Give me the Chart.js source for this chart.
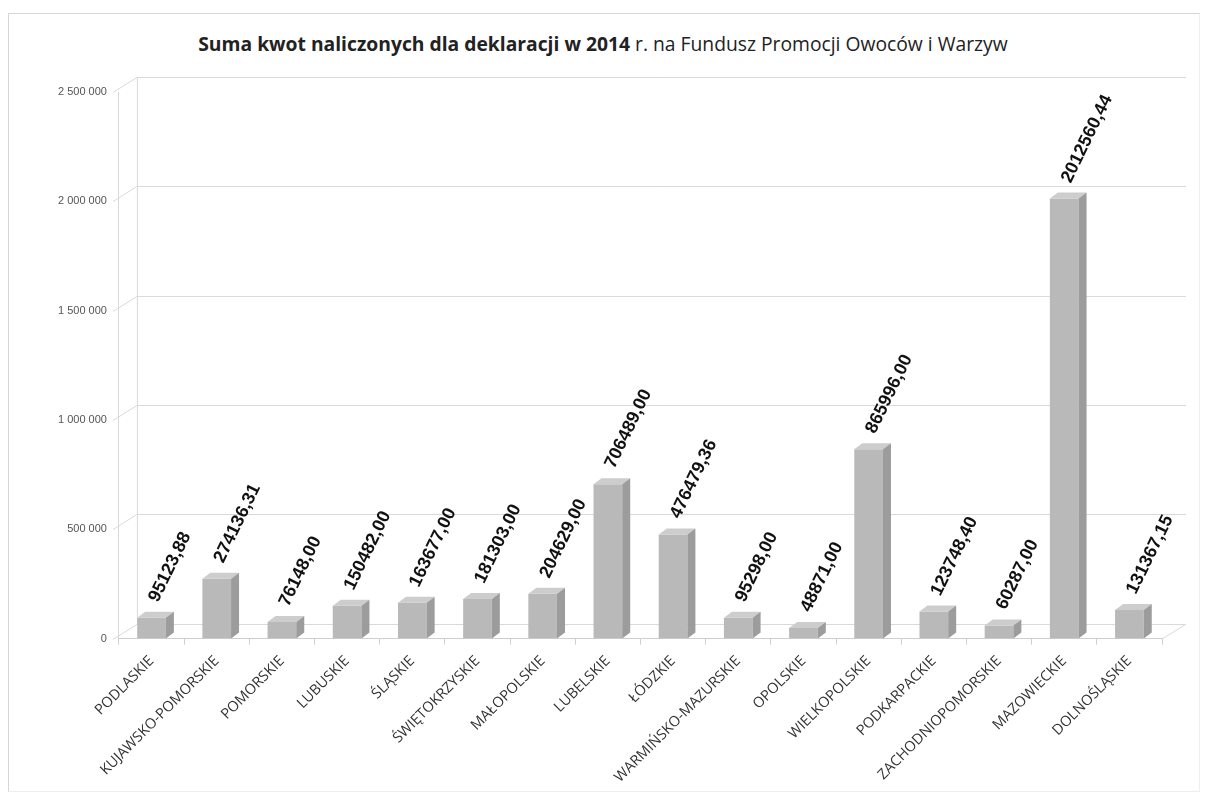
<!DOCTYPE html>
<html>
<head>
<meta charset="utf-8">
<script src="https://cdn.jsdelivr.net/npm/chart.js@4.4.1/dist/chart.umd.min.js"></script>
<style>
  body { margin: 0; background: #fff; }
  #frame { position: absolute; left: 8px; top: 13px; width: 1190px; height: 777px; border: 1px solid #d6d6d6; border-right-color: #eee; border-bottom-color: #eee; }
  #title { position: absolute; left: 0; top: 30px; width: 1206px; text-align: center;
           font-family: 'Open Sans', sans-serif; font-size: 19.3px; color: #222; }
  #title b { font-weight: 700; }
  #wrap { position: absolute; left: 0; top: 0; width: 1206px; height: 799px; }
</style>
</head>
<body>
<div id="frame"></div>
<div id="title"><b>Suma kwot naliczonych dla deklaracji w 2014</b> r. na Fundusz Promocji Owoców i Warzyw</div>
<div id="wrap"><canvas id="chart" width="1206" height="799"></canvas></div>
<script>
const regions = [
  'PODLASKIE', 'KUJAWSKO-POMORSKIE', 'POMORSKIE', 'LUBUSKIE', 'ŚLĄSKIE',
  'ŚWIĘTOKRZYSKIE', 'MAŁOPOLSKIE', 'LUBELSKIE', 'ŁÓDZKIE', 'WARMIŃSKO-MAZURSKIE',
  'OPOLSKIE', 'WIELKOPOLSKIE', 'PODKARPACKIE', 'ZACHODNIOPOMORSKIE', 'MAZOWIECKIE',
  'DOLNOŚLĄSKIE'
];
const amounts = [
  95123.88, 274136.31, 76148.00, 150482.00, 163677.00,
  181303.00, 204629.00, 706489.00, 476479.36, 95298.00,
  48871.00, 865996.00, 123748.40, 60287.00, 2012560.44,
  131367.15
];
const yMax = 2500000;
const yStep = 500000;

// 3D look: depth offset of bars and of the back wall
const barDepthX = 8, barDepthY = 6;
const wallX = 24, wallY = 15;

const fmtAxis = v => String(v).replace(/\B(?=(\d{3})+(?!\d))/g, ' ');
const fmtValue = v => v.toFixed(2).replace('.', ',');

const bar3d = {
  id: 'bar3d',
  beforeDatasetsDraw(chart) {
    const ctx = chart.ctx;
    const { left, right } = chart.chartArea;
    const y = chart.scales.y;
    ctx.save();
    ctx.strokeStyle = '#d9d9d9';
    ctx.lineWidth = 1;
    y.ticks.forEach(t => {
      const py = Math.round(y.getPixelForValue(t.value)) + 0.5;
      ctx.beginPath();
      ctx.moveTo(left - 6, py);
      ctx.lineTo(left - 6 + wallX, py - wallY);
      ctx.lineTo(right + wallX, py - wallY);
      ctx.stroke();
    });
    const top = y.getPixelForValue(yMax), bot = y.getPixelForValue(0);
    ctx.beginPath();
    ctx.moveTo(left - 6 + wallX + 0.5, top - wallY);
    ctx.lineTo(left - 6 + wallX + 0.5, bot - wallY);
    ctx.stroke();
    ctx.beginPath();
    ctx.moveTo(right, bot + 0.5);
    ctx.lineTo(right + wallX, bot - wallY + 0.5);
    ctx.stroke();
    ctx.restore();
  },
  afterDatasetsDraw(chart) {
    const ctx = chart.ctx;
    ctx.save();
    chart.getDatasetMeta(0).data.forEach((bar, i) => {
      const { x, y, base, width } = bar.getProps(['x', 'y', 'base', 'width'], true);
      const l = x - width / 2, r = x + width / 2;
      ctx.fillStyle = '#cdcdcd';
      ctx.beginPath();
      ctx.moveTo(l, y);
      ctx.lineTo(l + barDepthX, y - barDepthY);
      ctx.lineTo(r + barDepthX, y - barDepthY);
      ctx.lineTo(r, y);
      ctx.closePath();
      ctx.fill();
      ctx.fillStyle = '#9c9c9c';
      ctx.beginPath();
      ctx.moveTo(r, y);
      ctx.lineTo(r + barDepthX, y - barDepthY);
      ctx.lineTo(r + barDepthX, base - barDepthY);
      ctx.lineTo(r, base);
      ctx.closePath();
      ctx.fill();

      // value label, rotated
      ctx.save();
      ctx.translate(x + 2, y - 17);
      ctx.rotate(-64 * Math.PI / 180);
      ctx.font = 'bold 18px "Liberation Sans", Arial, sans-serif';
      ctx.fillStyle = '#111';
      ctx.textAlign = 'left';
      ctx.textBaseline = 'middle';
      ctx.fillText(fmtValue(amounts[i]), 0, 0);
      ctx.restore();
    });
    ctx.restore();
  }
};

new Chart(document.getElementById('chart'), {
  type: 'bar',
  data: {
    labels: regions,
    datasets: [{
      data: amounts,
      backgroundColor: '#b9b9b9',
      borderWidth: 0,
      barPercentage: 0.44,
      categoryPercentage: 1
    }]
  },
  options: {
    responsive: false,
    animation: false,
    layout: { padding: { top: 92, left: 54, right: 44, bottom: 5 } },
    plugins: {
      legend: { display: false },
      tooltip: { enabled: false }
    },
    scales: {
      x: {
        grid: { display: true, drawOnChartArea: false, offset: true, tickLength: 6, color: '#cfcfcf' },
        border: { display: true, color: '#cfcfcf' },
        ticks: {
          minRotation: 45, maxRotation: 45,
          padding: 8,
          color: '#333',
          font: { family: '"Open Sans", sans-serif', size: 14.5 }
        }
      },
      y: {
        min: 0, max: yMax,
        grid: { display: false },
        border: { display: true, color: '#d9d9d9' },
        ticks: {
          stepSize: yStep,
          color: '#555',
          padding: 4,
          font: { family: '"Liberation Sans", Arial, sans-serif', size: 11 },
          callback: v => fmtAxis(v)
        }
      }
    }
  },
  plugins: [bar3d]
});
</script>
</body>
</html>
